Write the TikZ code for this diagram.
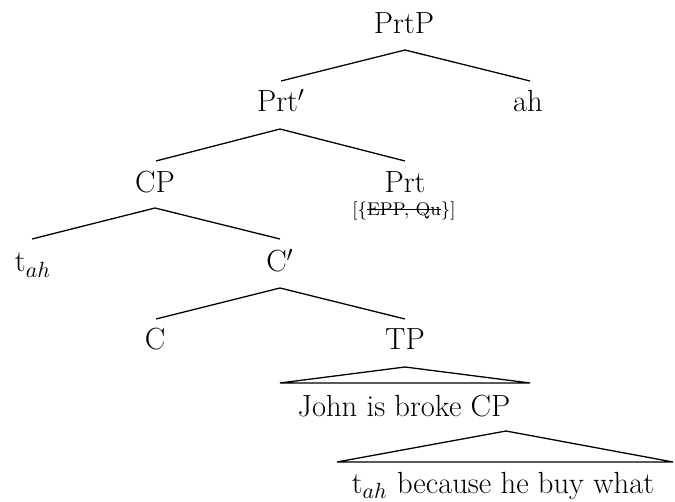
\documentclass[tikz,border=0pt]{standalone}
\usetikzlibrary{calc}
\newcommand\mystrike[1]{\setbox0=\hbox{#1}\rlap{\rule[0.3em]{\wd0}{0.75pt}}\box0}
\begin{document}
\begin{tikzpicture}[x=0.5pt,y=-0.5pt,
  lbl/.style={anchor=base,inner sep=0pt,font=\fontsize{15.3}{18}\selectfont},
  featlbl/.style={anchor=base,inner sep=0pt,font=\fontsize{9.2}{11}\selectfont},
  edge/.style={line width=0.65pt}]
\useasboundingbox (0,0) rectangle (675,502);
\node[lbl] (PrtP) at (404,34) {PrtP};
\node[lbl] (Prtbar) at (281,112) {Prt$'$};
\node[lbl] (ah) at (528,112) {ah};
\node[lbl] (CP) at (155,193) {CP};
\node[lbl] (Prt) at (405,193) {Prt};
\node[featlbl] (feat) at (404,216) {[\{\mystrike{EPP, Qu}\}]};
\node[lbl] (tah) at (33,272) {t$_{ah}$};
\node[lbl] (Cbar) at (280,272) {C$'$};
\node[lbl] (C) at (155,350) {C};
\node[lbl] (TP) at (405,350) {TP};
\node[lbl] (john) at (404,416) {John is broke CP};
\node[lbl] (because) at (503,493) {t$_{ah}$ because he buy what};
% edges
\draw[edge] ($(PrtP.base)+(1,16)$) -- ($(Prtbar.base)+(0,-31)$);
\draw[edge] ($(PrtP.base)+(1,16)$) -- ($(ah.base)+(2,-31)$);
\draw[edge] ($(Prtbar.base)+(-1,17)$) -- ($(CP.base)+(1,-32)$);
\draw[edge] ($(Prtbar.base)+(-1,17)$) -- ($(Prt.base)+(0,-32)$);
\draw[edge] ($(CP.base)+(0,15)$) -- ($(tah.base)+(-1,-33)$);
\draw[edge] ($(CP.base)+(0,15)$) -- ($(Cbar.base)+(0,-33)$);
\draw[edge] ($(Cbar.base)+(0,16)$) -- ($(C.base)+(1,-31)$);
\draw[edge] ($(Cbar.base)+(0,16)$) -- ($(TP.base)+(0,-31)$);
% triangles
\draw[edge] ($(TP.base)+(0,17)$) -- ($(john.base)+(-124,-33)$) -- ($(john.base)+(126,-33)$) -- cycle;
\draw[edge] ($(john.base)+(102,15)$) -- ($(because.base)+(-166,-31)$) -- ($(because.base)+(170,-31)$) -- cycle;
\end{tikzpicture}
\end{document}
